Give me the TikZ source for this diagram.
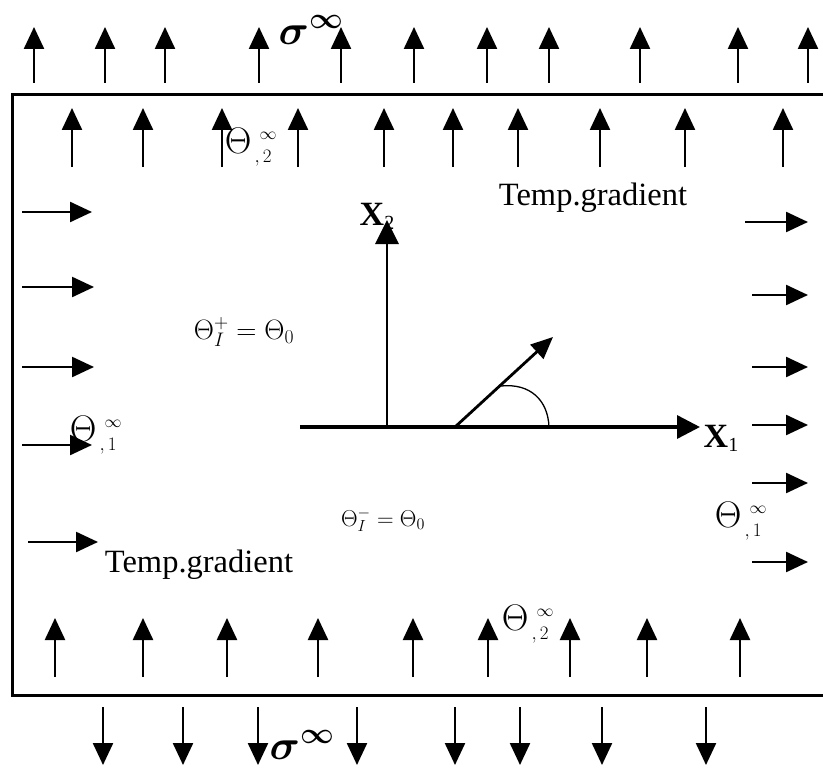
\RequirePackage{fix-cm}
\documentclass[tikz,border=0pt]{standalone}
\usepackage{bm}
\usepackage{fontspec}
\setmainfont{Liberation Serif}
\usetikzlibrary{arrows.meta}
\newcommand{\thlabel}[1]{$\Theta^{\hbox{\hspace{8pt}\fontsize{17}{17}\selectfont$\infty$}}_{\hbox{\hspace{3pt}\fontsize{19}{19}\selectfont$,#1$}}$}
\begin{document}
\begin{tikzpicture}[x=1pt,y=-1pt,
  load/.style={line width=2.4pt,-{Triangle[length=22pt,width=20pt]}},
  axis/.style={line width=3.4pt,-{Triangle[length=23pt,width=23pt]}},
  lbl/.style={inner sep=0pt,font=\fontsize{34}{34}\selectfont},
  theta/.style={inner sep=0pt,font=\fontsize{37}{37}\selectfont},
  eqn/.style={inner sep=0pt,font=\fontsize{28}{28}\selectfont},
  grad/.style={inner sep=0pt,font=\fontsize{32.5}{33}\selectfont}]
\useasboundingbox (0,0) rectangle (823,768);
% frame
\draw[line width=3pt] (823,95) -- (12,95) -- (12,695) -- (823,695);
% outer top loads
\foreach \x in {34,105,165,259,341,414,487,549,640,738,808}
  \draw[load] (\x,83) -- (\x,27);
% inner top
\foreach \x in {72,143,222,298,384,453,518,600,685,783}
  \draw[load] (\x,167) -- (\x,108);
% left
\foreach \y/\a/\b in {212/22/92,287/22/94,367/22/94,445/22/92,542/28/98}
  \draw[load] (\a,\y) -- (\b,\y);
% right
\foreach \y/\a/\b in {222/745/808,295/752/808,367/752/808,425/752/808,483/752/808,562/752/808}
  \draw[load] (\a,\y) -- (\b,\y);
% inner bottom
\foreach \x in {55,143,227,318,413,488,570,647,740}
  \draw[load] (\x,677) -- (\x,618);
% outer bottom
\foreach \x in {103,183,258,357,455,520,602,706}
  \draw[load] (\x,707) -- (\x,765);
% axes
\coordinate (O) at (387,427);
\coordinate (L) at (300,427);
\coordinate (E1) at (700,427);
\coordinate (E2) at (387,220);
\coordinate (P) at (455,427);
\coordinate (Q) at (553,337);
\draw[axis] (L) -- (E1);
\draw[line width=2.8pt,-{Triangle[length=24pt,width=23pt]}] (O) -- (E2);
\draw[line width=2.8pt,-{Triangle[length=22pt,width=19pt]}] (P) -- (Q);
\coordinate (A1) at (501,386);
\coordinate (A2) at (549,427);
\draw[line width=1.3pt] (A1) .. controls (530,383) and (548,400) .. (A2);
% labels
\node[lbl] (x2) at (377,216) {\textbf{X}\raisebox{-0.25ex}{\fontsize{20}{20}\selectfont 2}};
\node[lbl] (x1) at (721,438) {\textbf{X}\raisebox{-0.25ex}{\fontsize{20}{20}\selectfont 1}};
\node[inner sep=0pt,font=\fontsize{42}{42}\selectfont] (s1) at (311,30) {$\bm{\sigma}^{\bm{\infty}}$};
\node[inner sep=0pt,font=\fontsize{42}{42}\selectfont] (s2) at (302,745) {$\bm{\sigma}^{\bm{\infty}}$};
\node[theta] (t1) at (251,147) {\thlabel{2}};
\node[theta] (t2) at (96,435) {\thlabel{1}};
\node[theta] (t3) at (741,521) {\thlabel{1}};
\node[theta] (t4) at (528,624) {\thlabel{2}};
\node[eqn] (e1) at (244,332) {$\Theta_{I}^{+}=\Theta_0$};
\node[eqn,font=\fontsize{23}{23}\selectfont] (e2) at (383,520) {$\Theta_{I}^{-}=\Theta_0$};
\node[grad] (g1) at (593,198) {Temp.gradient};
\node[grad] (g2) at (199,565) {Temp.gradient};
\end{tikzpicture}
\end{document}
